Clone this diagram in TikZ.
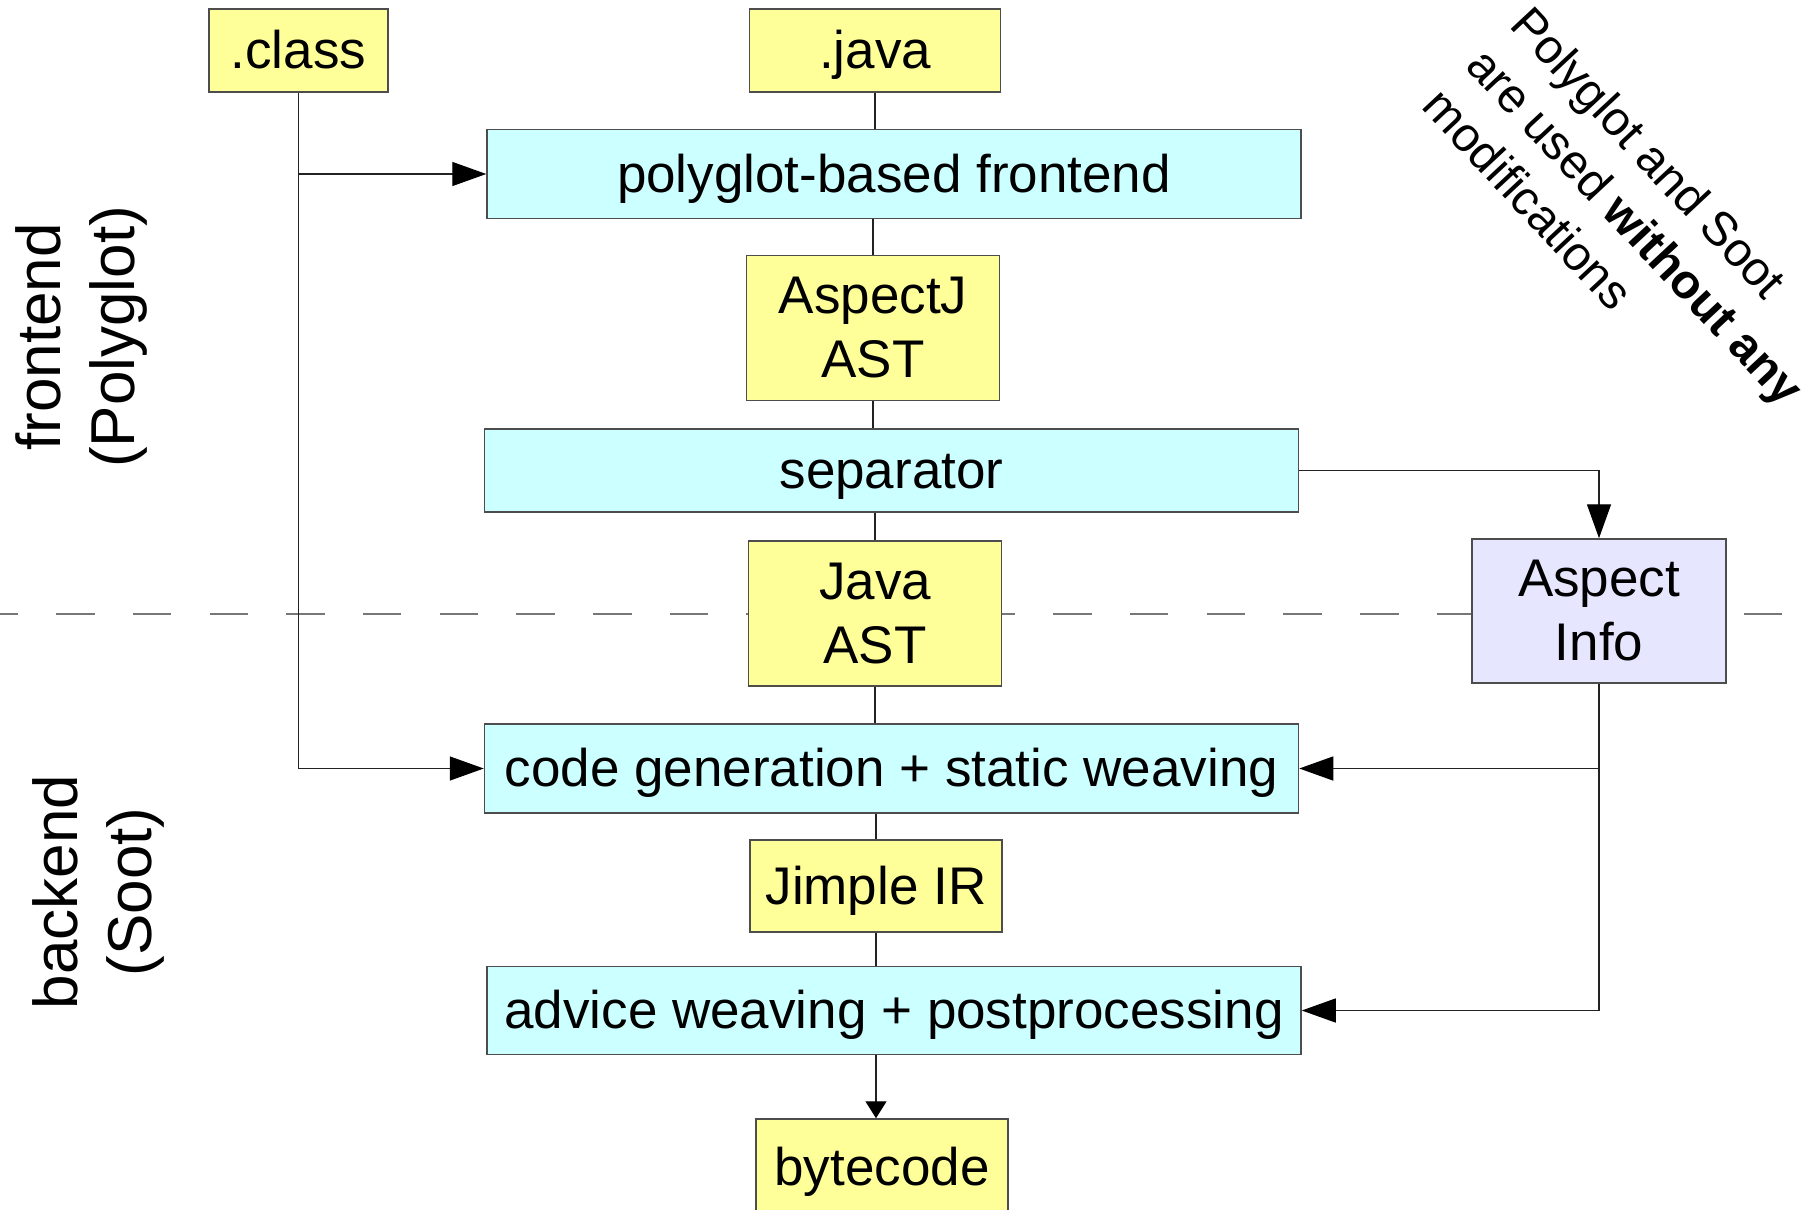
\documentclass[tikz,border=0pt]{standalone}
\usepackage{fontspec}
\usetikzlibrary{arrows.meta}
\newfontfamily\lsans{Liberation Sans}
\newcommand\boxfont{\lsans\fontsize{53}{64}\selectfont}
\newcommand\sidefont{\lsans\fontsize{62}{74}\selectfont}
\newcommand\notefont{\lsans\fontsize{48}{60}\selectfont}
\definecolor{boxyellow}{HTML}{FFFF99}
\definecolor{boxcyan}{HTML}{CCFFFF}
\definecolor{boxlav}{HTML}{E6E6FF}
\definecolor{bordergray}{HTML}{4D4D4D}
\definecolor{linegray}{HTML}{222222}
\definecolor{dashgray}{HTML}{777777}
\tikzset{
  box/.style={draw=bordergray, line width=1.5pt, inner sep=0pt, align=center, font=\boxfont},
  oneline/.style={text height=48pt, text depth=11.2pt},
  ybox/.style={box, fill=boxyellow},
  cbox/.style={box, fill=boxcyan},
  lbox/.style={box, fill=boxlav},
  conn/.style={draw=linegray, line width=1.4pt},
  arr/.style={conn, -{Triangle[length=34pt,width=24pt,color=black]}},
  smallarr/.style={conn, -{Triangle[length=17pt,width=21pt,color=black]}},
  divider/.style={draw=dashgray, line width=1.6pt, dash pattern=on 38.5pt off 38.2pt, dash phase=20.6pt},
}
\begin{document}
\begin{tikzpicture}[x=1pt, y=-1pt]
\useasboundingbox (0,0) rectangle (1813,1210);
% divider line
\coordinate (dl) at (0,614);
\coordinate (dr) at (1813,614);
\draw[divider] (dl) -- (dr);
% nodes
\node[ybox, oneline, minimum width=179pt, minimum height=83pt] (class) at (298.5,50.5) {.class};
\node[ybox, oneline, minimum width=251pt, minimum height=83pt] (java) at (875,50.5) {.java};
\node[cbox, oneline, minimum width=814pt, minimum height=89pt] (poly) at (894,174) {polyglot-based frontend};
\node[ybox, minimum width=253pt, minimum height=145pt] (ajast) at (873,328) {AspectJ\\AST};
\node[cbox, oneline, minimum width=814pt, minimum height=83pt] (sep) at (891.5,470.5) {separator};
\node[ybox, minimum width=253pt, minimum height=145pt] (jast) at (875,613.5) {Java\\AST};
\node[lbox, minimum width=254pt, minimum height=144pt] (ainfo) at (1599,611) {Aspect\\Info};
\node[cbox, oneline, minimum width=814pt, minimum height=89pt] (cgen) at (891.5,768.5) {code generation + static weaving};
\node[ybox, oneline, minimum width=252pt, minimum height=92pt] (jimple) at (876,886) {Jimple IR};
\node[cbox, oneline, minimum width=814pt, minimum height=88pt] (advice) at (894,1010.5) {advice weaving + postprocessing};
\node[ybox, oneline, minimum width=252pt, minimum height=96pt] (bytecode) at (882,1167) {bytecode};
% side labels
\node[font=\sidefont, align=center, rotate=90] (front) at (81,337) {frontend\\(Polyglot)};
\node[font=\sidefont, align=center, rotate=90] (back) at (98,892) {backend\\(Soot)};
% note
\node[font=\notefont, align=left, rotate=-47] (note) at (1636,226) {Polyglot and Soot\\are used \textbf{without any}\\modifications};
% central connectors
\draw[conn] (java.south) -- (java.south |- poly.north);
\draw[conn] (ajast.north |- poly.south) -- (ajast.north);
\draw[conn] (ajast.south) -- (ajast.south |- sep.north);
\draw[conn] (jast.north |- sep.south) -- (jast.north);
\draw[conn] (jast.south) -- (jast.south |- cgen.north);
\draw[conn] (jimple.north |- cgen.south) -- (jimple.north);
\draw[conn] (jimple.south) -- (jimple.south |- advice.north);
\draw[smallarr] (jimple.south |- advice.south) -- (jimple.south |- bytecode.north);
% .class connectors
\draw[conn] (class.south) -- (class.south |- cgen.west);
\draw[arr] (class.south |- poly.west) -- (poly.west);
\draw[arr] (class.south |- cgen.west) -- (cgen.west);
% aspect info connectors
\draw[arr] (sep.east) -| (ainfo.north);
\draw[conn] (ainfo.south) -- (ainfo.south |- advice.east);
\draw[arr] (ainfo.south |- cgen.east) -- (cgen.east);
\draw[arr] (ainfo.south |- advice.east) -- (advice.east);
\end{tikzpicture}
\end{document}
